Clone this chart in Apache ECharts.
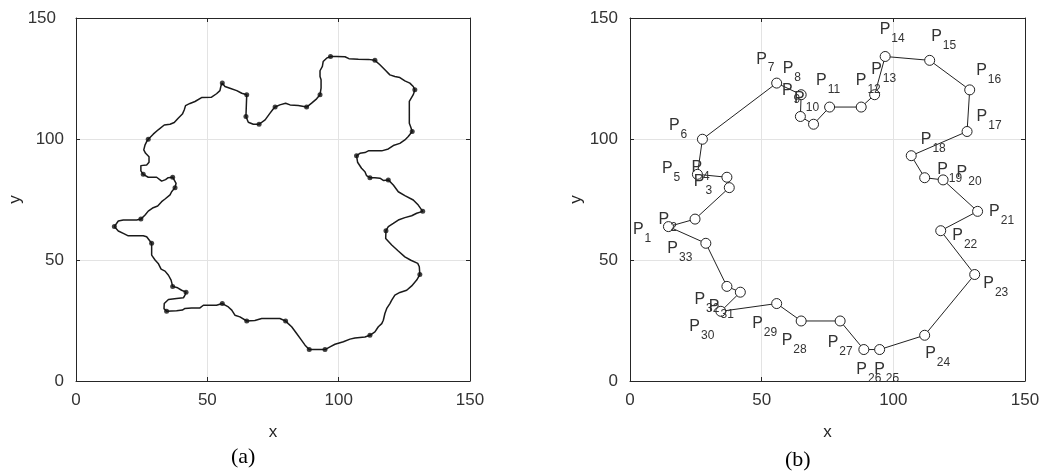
<!DOCTYPE html>
<html><head><meta charset="utf-8">
<script src="https://cdn.jsdelivr.net/npm/echarts@6/dist/echarts.min.js"></script>
<style>html,body{margin:0;padding:0;background:#fff}#c{width:1045px;height:473px}</style>
</head><body><div id="c"></div>
<script>
// ---- data ----
const axisTicks = [0, 50, 100, 150];
const panelTitles = ['(a)', '(b)'];
const axisNames = ['x', 'y'];
// 33 control points P1..P33
const ptX = [14.6,24.7,37.7,36.8,25.6,27.5,55.7,65.0,64.7,69.7,75.8,87.8,92.9,96.9,113.8,129.0,128.0,106.8,111.9,118.9,132.0,118.0,130.9,111.9,94.8,88.8,79.8,65.0,55.7,34.5,41.9,36.8,28.8];
const ptY = [63.8,66.9,79.9,84.2,85.4,99.9,123.1,118.3,109.3,106.1,113.2,113.2,118.3,134.1,132.5,120.3,103.1,93.1,84.0,83.1,70.1,62.1,44.0,18.9,13.0,13.0,24.8,24.8,32.0,28.8,36.7,39.1,56.9];
// traced contour of panel (a)
const pathX = [
14.6,16.1,18.0,20.6,23.1,
24.7,26.3,27.5,29.4,31.1,32.6,33.9,35.8,36.4,
37.7,38.1,
36.8,35.1,34.1,32.6,30.7,27.5,
25.6,24.7,24.7,26.9,27.8,27.8,26.5,25.8,26.3,26.9,
27.5,29.4,31.3,33.6,35.8,37.4,38.9,40.5,41.2,41.7,43.4,45.3,47.8,51.6,53.5,54.8,55.2,
55.7,56.7,58.6,61.2,63.1,
65.0,
64.7,65.6,67.5,
69.7,72.0,73.8,75.0,
75.8,77.6,79.8,81.5,84.6,
87.8,89.7,91.6,
92.9,93.3,93.3,92.9,92.9,93.8,94.1,95.4,
96.9,99.2,102.4,103.9,107.5,111.3,
113.8,115.7,117.6,119.5,121.4,123.3,125.2,127.1,128.4,
129.0,128.4,127.8,126.9,126.9,126.9,127.4,
128.0,126.5,125.2,123.3,120.8,118.9,116.4,111.3,110.0,108.1,
106.8,107.2,108.7,110.0,110.6,
111.9,113.8,115.7,117.0,
118.9,120.8,122.7,125.2,128.4,130.3,
132.0,129.7,127.8,125.2,122.7,120.8,118.9,
118.0,117.9,120.2,122.7,125.2,127.5,130.1,130.7,
130.9,129.7,127.8,125.9,123.3,121.4,120.2,119.5,118.3,117.6,117.0,116.4,115.1,113.8,
111.9,110.0,106.2,104.3,101.8,98.6,96.7,
94.8,
88.8,87.2,85.9,84.0,82.1,80.8,
79.8,77.6,71.9,70.7,68.1,
65.0,62.4,60.5,59.3,58.0,
55.7,53.5,48.5,47.2,44.0,41.5,40.5,38.3,
34.5,33.5,33.6,35.2,38.3,40.9,41.5,
41.9,40.2,38.7,
36.8,36.2,35.2,33.9,32.4,31.3,30.1,28.8,
28.8,26.9,25.6,19.9,18.0,16.1];
const pathY = [
63.8,66.1,66.5,66.5,66.5,
66.9,68.6,70.2,71.6,72.3,74.1,75.2,76.9,78.2,
79.9,81.7,
84.2,84.0,83.2,82.6,84.2,84.2,
85.4,86.8,89.0,89.3,90.4,92.7,94.1,95.5,97.6,98.9,
99.9,102.0,103.8,105.8,106.1,106.8,108.6,110.3,112.0,113.8,114.7,115.5,117.1,117.3,118.7,120.0,122.0,
123.1,121.7,121.0,120.0,118.9,
118.3,
109.3,106.9,106.1,
106.1,107.9,110.6,112.3,
113.2,114.1,114.8,114.1,113.8,
113.2,114.8,116.6,
118.3,121.0,124.5,125.8,128.2,130.0,132.0,133.4,
134.1,134.1,134.0,133.2,133.0,132.9,
132.5,130.7,128.6,126.5,125.8,125.4,124.0,123.1,121.7,
120.3,118.3,117.6,115.5,111.3,106.5,105.1,
103.1,101.0,99.6,98.2,97.3,95.9,95.1,95.1,94.4,94.1,
93.1,90.4,87.9,86.5,84.9,
84.0,84.0,83.8,82.9,
83.1,81.0,78.2,76.6,74.8,72.7,
70.1,69.3,68.3,67.5,66.5,65.1,63.8,
62.1,58.9,56.2,53.7,51.3,49.9,48.6,47.2,
44.0,41.7,39.3,37.5,36.6,35.5,33.4,32.0,30.0,27.9,25.1,23.7,22.4,20.3,
18.9,18.2,17.8,17.3,16.2,15.2,14.1,
13.0,
13.0,14.8,16.8,19.6,22.4,23.7,
24.8,25.8,25.8,25.8,25.0,
24.8,26.5,27.2,29.3,30.6,
32.0,31.3,31.3,30.2,30.2,30.0,29.3,29.0,
28.8,29.9,32.0,33.7,34.1,34.4,35.5,
36.7,37.5,38.5,
39.1,41.7,43.7,45.4,46.2,48.6,50.0,52.0,
56.9,59.6,60.0,60.0,61.0,62.0];

// ---- layout / style ----
// pixel offset of each label's "P" glyph centre from its marker (panel b)
const labelShift = [[-30,3],[-31,0],[-30,-6],[-30,-10],[-30,-6],[-28,-14],[-15,-24],[-13,-26],[-13,-26],[-14,-26],
[-8,-26],[0,-26],[2,-25],[0,-27],[7,-24],[12,-19],[15,-15],[15,-16],[18,-8],[19,-7],
[17,0],[17,5],[14,9],[6,18],[0,20],[-2,20],[-7,22],[-14,20],[-19,20],[-26,15],
[-26,14],[-27,13],[-33,5]];

const FONT = 'Liberation Sans, Arial, Helvetica, sans-serif';
const AX = '#262626';
const GRIDC = '#e3e3e3';

const grids = [
  {left: 76, top: 18, width: 394, height: 363, containLabel: false, outerBoundsMode: 'none'},
  {left: 630, top: 18, width: 395, height: 363, containLabel: false, outerBoundsMode: 'none'}
];

function mainX(gi) {
  return {
    type: 'value', gridIndex: gi, min: axisTicks[0], max: axisTicks[axisTicks.length-1], interval: 50,
    position: 'bottom',
    name: axisNames[0], nameLocation: 'middle', nameGap: 43,
    nameTextStyle: {fontFamily: FONT, fontSize: 17, color: AX},
    axisLine: {show: true, onZero: false, lineStyle: {color: AX, width: 1}},
    axisTick: {show: true, inside: true, length: 4, lineStyle: {color: AX}},
    axisLabel: {fontFamily: FONT, fontSize: 17, color: '#333', margin: 11},
    splitLine: {show: true, lineStyle: {color: GRIDC, width: 1}}
  };
}
function topX(gi) {
  return {
    type: 'value', gridIndex: gi, min: 0, max: 150, interval: 50, position: 'top',
    axisLine: {show: true, onZero: false, lineStyle: {color: AX, width: 1}},
    axisTick: {show: true, inside: true, length: 4, lineStyle: {color: AX}},
    axisLabel: {show: false}, splitLine: {show: false}
  };
}
function mainY(gi) {
  return {
    type: 'value', gridIndex: gi, min: axisTicks[0], max: axisTicks[axisTicks.length-1], interval: 50,
    position: 'left',
    name: axisNames[1], nameLocation: 'middle', nameGap: 45, nameRotate: 90,
    nameTextStyle: {fontFamily: FONT, fontSize: 17, color: AX},
    axisLine: {show: true, onZero: false, lineStyle: {color: AX, width: 1}},
    axisTick: {show: true, inside: true, length: 4, lineStyle: {color: AX}},
    axisLabel: {
      fontFamily: FONT, fontSize: 17, color: '#333', margin: 12,
      formatter: gi === 0 ? (v => v === 150 ? '{w|150}' : String(v)) : (v => String(v)),
      rich: {w: {fontFamily: FONT, fontSize: 17, color: '#333', padding: [0, 8, 0, 0]}}
    },
    splitLine: {show: true, lineStyle: {color: GRIDC, width: 1}}
  };
}
function rightY(gi) {
  return {
    type: 'value', gridIndex: gi, min: 0, max: 150, interval: 50, position: 'right',
    axisLine: {show: true, onZero: false, lineStyle: {color: AX, width: 1}},
    axisTick: {show: true, inside: true, length: 4, lineStyle: {color: AX}},
    axisLabel: {show: false}, splitLine: {show: false}
  };
}

const pathData = pathX.map((x, i) => [x, pathY[i]]);
pathData.push([pathX[0], pathY[0]]);
const ptData = ptX.map((x, i) => [x, ptY[i]]);
const ringData = ptData.concat([ptData[0]]);

const labelled = ptData.map((p, i) => ({
  value: p,
  label: {offset: [labelShift[i][0] - 5.5, labelShift[i][1] - 8]}
}));

const option = {
  animation: false,
  backgroundColor: '#fff',
  grid: grids,
  xAxis: [mainX(0), topX(0), mainX(1), topX(1)],
  yAxis: [mainY(0), rightY(0), mainY(1), rightY(1)],
  series: [
    {type: 'line', xAxisIndex: 0, yAxisIndex: 0, data: pathData, showSymbol: false, symbol: 'none',
     lineStyle: {color: '#1a1a1a', width: 1.5}, z: 3},
    {type: 'scatter', xAxisIndex: 0, yAxisIndex: 0, data: ptData, symbol: 'circle', symbolSize: 5,
     itemStyle: {color: '#111'}, z: 4},
    {type: 'line', xAxisIndex: 2, yAxisIndex: 2, data: ringData, showSymbol: false, symbol: 'none',
     lineStyle: {color: '#222', width: 1}, z: 3},
    {type: 'scatter', xAxisIndex: 2, yAxisIndex: 2, data: labelled, symbol: 'circle', symbolSize: 10,
     itemStyle: {color: '#fff', borderColor: '#222', borderWidth: 1, opacity: 1}, z: 4,
     label: {
       show: true, position: 'inside', align: 'left', verticalAlign: 'top',
       formatter: p => '{p|P}{s|' + (p.dataIndex + 1) + '}',
       rich: {
         p: {fontFamily: FONT, fontSize: 16, lineHeight: 16, color: '#333', verticalAlign: 'top'},
         s: {fontFamily: FONT, fontSize: 12, lineHeight: 12, color: '#333', verticalAlign: 'top', padding: [11, 0, 0, 1]}
       }
     }}
  ],
  graphic: [
    {type: 'text', left: 231, top: 446, style: {text: panelTitles[0], font: '22px "Liberation Serif", "Times New Roman", serif', fill: '#000'}},
    {type: 'text', left: 785, top: 449, style: {text: panelTitles[1], font: '22px "Liberation Serif", "Times New Roman", serif', fill: '#000'}}
  ]
};
const chart = echarts.init(document.getElementById('c'), null, {renderer: 'canvas'});
chart.setOption(option);
</script></body></html>
